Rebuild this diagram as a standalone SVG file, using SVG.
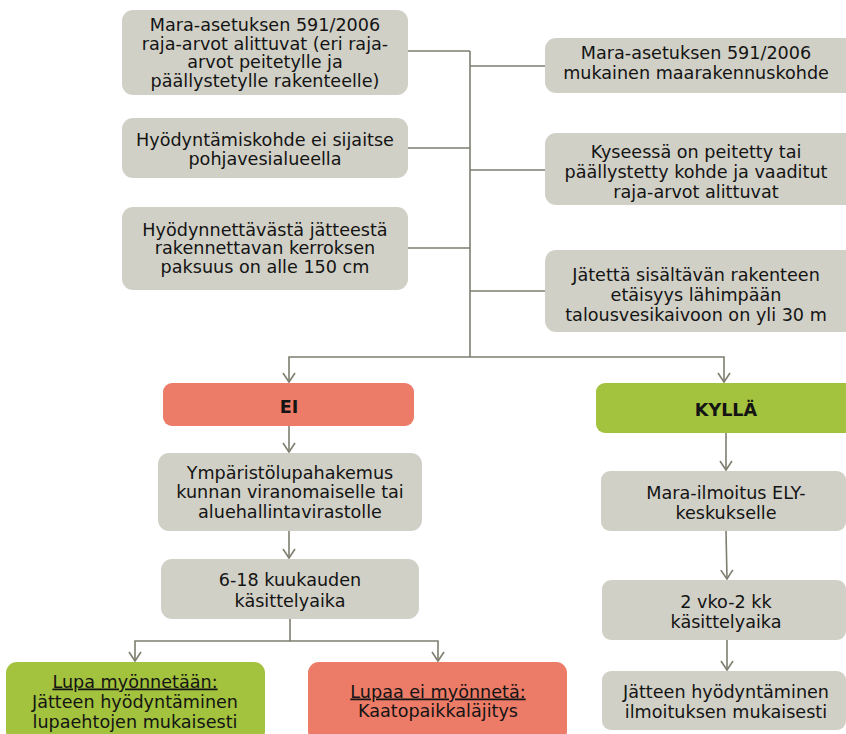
<svg xmlns="http://www.w3.org/2000/svg" width="846" height="734" viewBox="0 0 846 734">
<style>
.box{fill:#D1D0C7}
.red{fill:#EC7B67}
.grn{fill:#A3C23D}
text{font-family:"DejaVu Sans","Verdana",sans-serif;font-size:17.6px;fill:#141414;text-anchor:middle}
.b{font-weight:bold}
.u{text-decoration:underline}
.ln{fill:none;stroke:#7E7E70;stroke-width:1.6}
</style>
<defs>
<marker id="ah" markerWidth="12" markerHeight="14" refX="10" refY="7" orient="auto" markerUnits="userSpaceOnUse" viewBox="0 0 12 14">
<polyline points="1,1 10,7 1,13" fill="none" stroke="#7E7E70" stroke-width="1.6"/>
</marker>
</defs>
<rect width="846" height="734" fill="#FFFFFF"/>
<g id="connectors">
<path class="ln" d="M408 51 H470 M408 148 H470 M408 248 H470 M470 51 V357 M470 66 H545 M470 170 H545 M470 291 H545"/>
<path class="ln" d="M470 357 H289 V382" marker-end="url(#ah)"/>
<path class="ln" d="M470 357 H724 V382" marker-end="url(#ah)"/>
<path class="ln" d="M289 426 V452" marker-end="url(#ah)"/>
<path class="ln" d="M289 531 V558" marker-end="url(#ah)"/>
<path class="ln" d="M290 619 V641 H135 V661" marker-end="url(#ah)"/>
<path class="ln" d="M290 641 H438 V661" marker-end="url(#ah)"/>
<path class="ln" d="M726 433 V470" marker-end="url(#ah)"/>
<path class="ln" d="M726 531 L727 579" marker-end="url(#ah)"/>
<path class="ln" d="M727 640 V670" marker-end="url(#ah)"/>
</g>
<g id="n1"><rect class="box" x="122" y="10" width="286" height="85" rx="11"/>
<text x="265" y="31">Mara-asetuksen 591/2006</text>
<text x="265" y="49.5">raja-arvot alittuvat (eri raja-</text>
<text x="265" y="68">arvot peitetylle ja</text>
<text x="265" y="86.5">päällystetylle rakenteelle)</text></g>
<g id="n2"><rect class="box" x="122" y="118" width="286" height="60" rx="11"/>
<text x="265" y="146">Hyödyntämiskohde ei sijaitse</text>
<text x="265" y="165">pohjavesialueella</text></g>
<g id="n3"><rect class="box" x="122" y="207" width="286" height="83" rx="11"/>
<text x="265" y="235.5">Hyödynnettävästä jätteestä</text>
<text x="265" y="254">rakennettavan kerroksen</text>
<text x="265" y="272.5">paksuus on alle 150 cm</text></g>
<g id="r1"><rect class="box" x="545" y="38" width="320" height="55" rx="11"/>
<text x="696" y="59">Mara-asetuksen 591/2006</text>
<text x="696" y="79">mukainen maarakennuskohde</text></g>
<g id="r2"><rect class="box" x="545" y="133" width="320" height="72" rx="11"/>
<text x="696" y="157.5">Kyseessä on peitetty tai</text>
<text x="696" y="177.5">päällystetty kohde ja vaaditut</text>
<text x="696" y="197.5">raja-arvot alittuvat</text></g>
<g id="r3"><rect class="box" x="545" y="250" width="320" height="82" rx="11"/>
<text x="696" y="280.5">Jätettä sisältävän rakenteen</text>
<text x="696" y="300.5">etäisyys lähimpään</text>
<text x="696" y="320.5">talousvesikaivoon on yli 30 m</text></g>
<g id="ei"><rect class="red" x="163" y="383" width="251" height="43" rx="9"/>
<text class="b" x="289" y="413">EI</text></g>
<g id="kylla"><rect class="grn" x="596" y="383" width="270" height="50" rx="9"/>
<text class="b" x="726" y="416">KYLLÄ</text></g>
<g id="ymp"><rect class="box" x="158" y="453" width="264" height="78" rx="11"/>
<text x="290" y="478.5">Ympäristölupahakemus</text>
<text x="290" y="498">kunnan viranomaiselle tai</text>
<text x="290" y="517.5">aluehallintavirastolle</text></g>
<g id="kasittely1"><rect class="box" x="161" y="559" width="258" height="60" rx="11"/>
<text x="290" y="585.5">6-18 kuukauden</text>
<text x="290" y="606.5">käsittelyaika</text></g>
<g id="lupa"><rect class="grn" x="6" y="662" width="259" height="80" rx="11"/>
<text class="u" x="135" y="687.5">Lupa myönnetään:</text>
<text x="135" y="707.5">Jätteen hyödyntäminen</text>
<text x="135" y="727.5">lupaehtojen mukaisesti</text></g>
<g id="eilupa"><rect class="red" x="308" y="662" width="259" height="80" rx="11"/>
<text class="u" x="438" y="697.5">Lupaa ei myönnetä:</text>
<text x="438" y="717">Kaatopaikkaläjitys</text></g>
<g id="mara"><rect class="box" x="601" y="471" width="245" height="60" rx="9"/>
<text x="726" y="498.5">Mara-ilmoitus ELY-</text>
<text x="726" y="518.5">keskukselle</text></g>
<g id="kasittely2"><rect class="box" x="602" y="580" width="244" height="60" rx="9"/>
<text x="726" y="607.5">2 vko-2 kk</text>
<text x="726" y="627.5">käsittelyaika</text></g>
<g id="ilmoitus"><rect class="box" x="602" y="671" width="244" height="59" rx="9"/>
<text x="726" y="697.5">Jätteen hyödyntäminen</text>
<text x="726" y="717.5">ilmoituksen mukaisesti</text></g>
</svg>
